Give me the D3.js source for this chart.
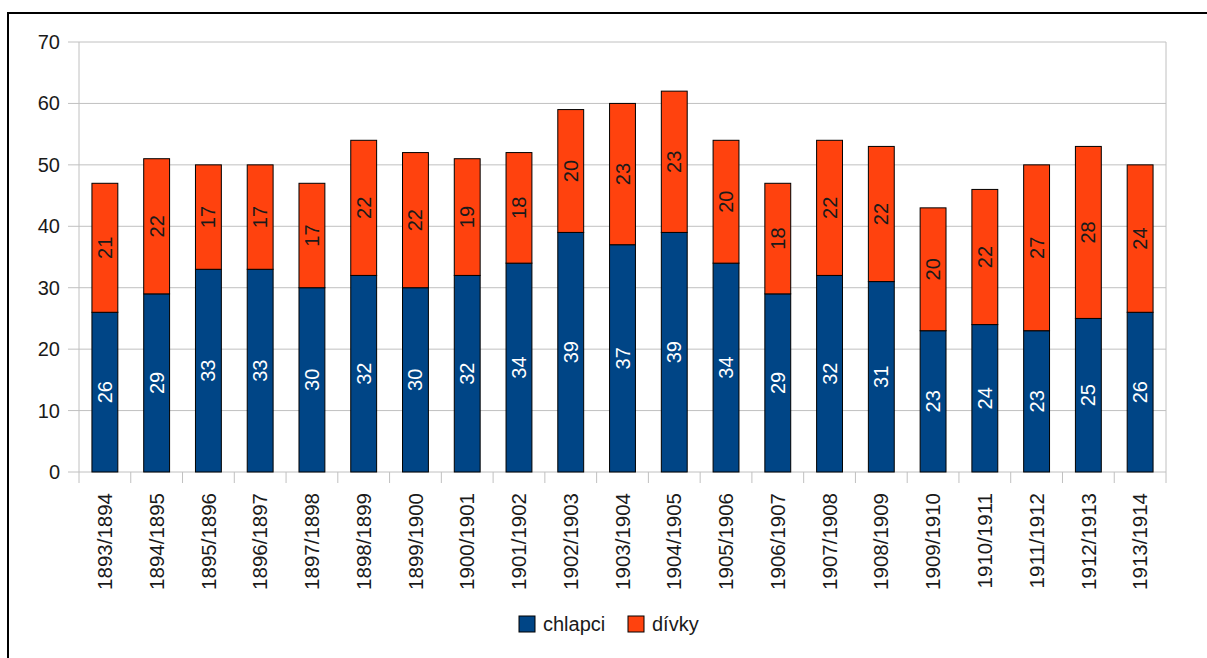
<!DOCTYPE html>
<html><head><meta charset="utf-8">
<script src="https://cdn.jsdelivr.net/npm/d3@7/dist/d3.min.js"></script>
<style>body{margin:0;background:#fff;}svg{display:block;font-family:"Liberation Sans",Arial,sans-serif;}</style>
</head><body><svg id="c" width="1207" height="658"></svg>
<script>
const categories = ["1893/1894","1894/1895","1895/1896","1896/1897","1897/1898","1898/1899","1899/1900","1900/1901","1901/1902","1902/1903","1903/1904","1904/1905","1905/1906","1906/1907","1907/1908","1908/1909","1909/1910","1910/1911","1911/1912","1912/1913","1913/1914"];
const chlapci = [26,29,33,33,30,32,30,32,34,39,37,39,34,29,32,31,23,24,23,25,26];
const divky = [21,22,17,17,17,22,22,19,18,20,23,23,20,18,22,22,20,22,27,28,24];
const seriesNames = ["chlapci","dívky"];
const colors = ["#004586","#ff420e"];
const yTicks = [0,10,20,30,40,50,60,70];

const svg = d3.select("#c");
const L = 79, R = 1166, T = 42, B = 472;
const x = d3.scaleBand().domain(categories).range([L,R]).paddingInner(0.5).paddingOuter(0.25);
const xb = d3.scaleBand().domain(categories).range([L,R]);
const y = d3.scaleLinear().domain([0,70]).range([B,T]);
const txt = "#1a1a1a";

// frame
svg.append("path").attr("d",`M8,658 V13 H1207`).attr("fill","none").attr("stroke","#000").attr("stroke-width",2);

// grid
svg.append("g").selectAll("line").data(yTicks).join("line")
  .attr("x1",L).attr("x2",R).attr("y1",d=>y(d)).attr("y2",d=>y(d))
  .attr("stroke","#c0c0c0").attr("stroke-width",1);
svg.append("g").selectAll("line").data(yTicks).join("line")
  .attr("x1",68).attr("x2",L).attr("y1",d=>y(d)).attr("y2",d=>y(d))
  .attr("stroke","#c0c0c0");
svg.append("line").attr("x1",L).attr("x2",L).attr("y1",T).attr("y2",483).attr("stroke","#c0c0c0");
svg.append("line").attr("x1",R).attr("x2",R).attr("y1",T).attr("y2",483).attr("stroke","#c0c0c0");
svg.append("g").selectAll("line").data(categories.slice(1)).join("line")
  .attr("x1",d=>xb(d)).attr("x2",d=>xb(d)).attr("y1",B).attr("y2",483)
  .attr("stroke","#c0c0c0");
svg.append("g").selectAll("text").data(yTicks).join("text")
  .attr("x",60).attr("y",d=>y(d)).attr("dy","0.35em").attr("text-anchor","end")
  .attr("font-size",20).attr("fill",txt).text(d=>d);

// bars
const data = categories.map((c,i)=>({c, a:chlapci[i], b:divky[i]}));
const g = svg.append("g");
g.selectAll("rect.a").data(data).join("rect").attr("class","a")
  .attr("x",d=>x(d.c)).attr("width",x.bandwidth())
  .attr("y",d=>y(d.a)).attr("height",d=>y(0)-y(d.a))
  .attr("fill",colors[0]).attr("stroke","#000").attr("stroke-width",1);
g.selectAll("rect.b").data(data).join("rect").attr("class","b")
  .attr("x",d=>x(d.c)).attr("width",x.bandwidth())
  .attr("y",d=>y(d.a+d.b)).attr("height",d=>y(d.a)-y(d.a+d.b))
  .attr("fill",colors[1]).attr("stroke","#000").attr("stroke-width",1);
g.selectAll("text.a").data(data).join("text").attr("class","a")
  .attr("transform",d=>`translate(${x(d.c)+x.bandwidth()/2},${y(d.a/2)}) rotate(-90)`)
  .attr("text-anchor","middle").attr("dy","0.35em").attr("font-size",20).attr("fill","#fff").text(d=>d.a);
g.selectAll("text.b").data(data).join("text").attr("class","b")
  .attr("transform",d=>`translate(${x(d.c)+x.bandwidth()/2},${y(d.a+d.b/2)}) rotate(-90)`)
  .attr("text-anchor","middle").attr("dy","0.35em").attr("font-size",20).attr("fill",txt).text(d=>d.b);

// x labels
svg.append("g").selectAll("text").data(categories).join("text")
  .attr("transform",d=>`translate(${x(d)+x.bandwidth()/2},493) rotate(-90)`)
  .attr("text-anchor","end").attr("dy","0.35em").attr("font-size",20.5).attr("fill",txt).text(d=>d);

// legend
const lg = svg.append("g");
const lx = [519,628];
seriesNames.forEach((n,i)=>{
  lg.append("rect").attr("x",lx[i]).attr("y",616).attr("width",16).attr("height",16)
    .attr("fill",colors[i]).attr("stroke","#000").attr("stroke-width",1);
  lg.append("text").attr("x",lx[i]+24).attr("y",624).attr("dy","0.35em").attr("font-size",20).attr("fill",txt).text(n);
});
</script></body></html>
